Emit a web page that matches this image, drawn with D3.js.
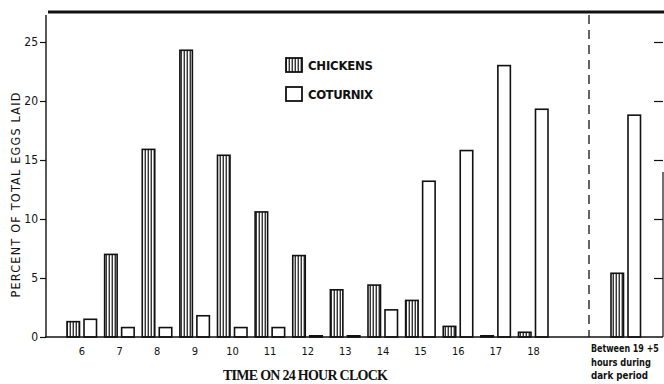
<!DOCTYPE html>
<html>
<head>
<meta charset="utf-8">
<script src="https://cdn.jsdelivr.net/npm/d3@7"></script>
<style>
  html, body { margin: 0; padding: 0; background: #fff; }
  svg { display: block; }
</style>
</head>
<body>
<svg id="chart" width="664" height="384"></svg>
<script>
// Hour of day when the egg was laid (24 h clock)
const hours = ["6", "7", "8", "9", "10", "11", "12", "13", "14", "15", "16", "17", "18"];
// Percent of total eggs laid in each hour
const chickens = [1.3, 7.0, 15.9, 24.3, 15.4, 10.6, 6.9, 4.0, 4.4, 3.1, 0.9, 0, 0.4];
const coturnix = [1.5, 0.8, 0.8, 1.8, 0.8, 0.8, 0, 0, 2.3, 13.2, 15.8, 23.0, 19.3];
// Eggs laid between 19 and 5 h, i.e. during the dark period
const darkLabel = ["Between 19 +5", "hours during", "dark period"];
const darkChickens = 5.4;
const darkCoturnix = 18.8;
const yTicks = [0, 5, 10, 15, 20, 25];
const seriesNames = ["CHICKENS", "COTURNIX"];

const svg = d3.select("#chart");
const ink = "#111";
const fam = '"DejaVu Sans Condensed", "Liberation Sans Narrow", sans-serif';

// Scales
const y = d3.scaleLinear().domain([0, 25]).range([337, 42]);
const x = d3.scaleBand().domain(hours).range([63.2, 552.3]).padding(0);
const darkCenter = 626;
const sub = d3.scaleBand().domain(["chickens", "coturnix"]).range([-15, 14.5]).paddingInner(0.265);

// Vertical stripe fill for the chicken bars
const defs = svg.append("defs");
const pat = defs.append("pattern")
  .attr("id", "stripes").attr("patternUnits", "userSpaceOnUse")
  .attr("width", 3).attr("height", 6);
pat.append("rect").attr("width", 3).attr("height", 6).attr("fill", "#fff");
pat.append("rect").attr("x", 0.6).attr("width", 1.3).attr("height", 6).attr("fill", "#222");

// Frame lines
svg.append("line").attr("x1", 48).attr("x2", 664).attr("y1", 12).attr("y2", 12)
  .attr("stroke", ink).attr("stroke-width", 3);
svg.append("line").attr("x1", 46).attr("x2", 46).attr("y1", 15).attr("y2", 337)
  .attr("stroke", ink).attr("stroke-width", 1.4);
svg.append("line").attr("x1", 663).attr("x2", 663).attr("y1", 172).attr("y2", 337)
  .attr("stroke", ink).attr("stroke-width", 1.2);
svg.append("line").attr("x1", 589).attr("x2", 589).attr("y1", 15).attr("y2", 337)
  .attr("stroke", ink).attr("stroke-width", 1.3).attr("stroke-dasharray", "9,6");

// Left axis
const yAxis = svg.append("g").attr("transform", "translate(46,0)")
  .call(d3.axisLeft(y).tickValues(yTicks).tickSize(6).tickPadding(2).tickFormat(d3.format("d")));
yAxis.select(".domain").remove();
yAxis.selectAll("line").attr("stroke", ink).attr("stroke-width", 1.2);
yAxis.selectAll("text").attr("font-size", 12).attr("fill", ink)
  .attr("font-family", null).style("font-family", fam);

// Right-hand tick marks
const yAxisR = svg.append("g").attr("transform", "translate(663,0)")
  .call(d3.axisLeft(y).tickValues(yTicks.filter(d => d > 0)).tickSize(9).tickFormat(""));
yAxisR.select(".domain").remove();
yAxisR.selectAll("line").attr("stroke", ink).attr("stroke-width", 1.2);

// Bars
function bar(cx, key, v) {
  const h = Math.max(y(0) - y(v), 1.2);
  svg.append("rect")
    .attr("x", cx + sub(key)).attr("width", sub.bandwidth())
    .attr("y", y(0) - h).attr("height", h)
    .attr("fill", key === "chickens" ? "url(#stripes)" : "#fff")
    .attr("stroke", ink).attr("stroke-width", 1.6);
}
hours.forEach((hh, i) => {
  const cx = x(hh) + x.bandwidth() / 2;
  bar(cx, "chickens", chickens[i]);
  bar(cx, "coturnix", coturnix[i]);
});
bar(darkCenter, "chickens", darkChickens);
bar(darkCenter, "coturnix", darkCoturnix);

// Baseline
svg.append("line").attr("x1", 45).attr("x2", 663).attr("y1", 337).attr("y2", 337)
  .attr("stroke", ink).attr("stroke-width", 1.5);

// Hour labels
svg.append("g").selectAll("text").data(hours).join("text")
  .attr("x", d => x(d) + x.bandwidth() / 2).attr("y", 355)
  .attr("text-anchor", "middle").style("font-family", fam)
  .attr("font-size", 11).attr("fill", ink).text(d => d);

// Dark period label: three lines squeezed horizontally to fit the narrow column
const darkWidths = [68, 60, 57];
svg.append("g").selectAll("text").data(darkLabel).join("text")
  .style("font-family", fam).attr("font-weight", "bold")
  .attr("font-size", 11).attr("fill", ink)
  .text(d => d)
  .attr("transform", function (d, i) {
    const w = this.getComputedTextLength() || darkWidths[i];
    const k = Math.min(1, darkWidths[i] / w);
    return `translate(591,${352 + i * 13.5}) scale(${k},1)`;
  });

// Axis titles
svg.append("text").attr("x", 223).attr("y", 380)
  .attr("font-family", '"Liberation Serif", "DejaVu Serif", serif')
  .attr("font-weight", "bold").attr("font-size", 14)
  .attr("textLength", 165).attr("lengthAdjust", "spacing")
  .attr("fill", ink).text("TIME ON 24 HOUR CLOCK");

svg.append("text")
  .attr("transform", "translate(20,195) rotate(-90)")
  .attr("text-anchor", "middle").style("font-family", fam)
  .attr("font-size", 12.5).attr("textLength", 205).attr("lengthAdjust", "spacing")
  .attr("fill", ink).text("PERCENT OF TOTAL EGGS LAID");

// Legend
const legend = svg.append("g");
seriesNames.forEach((name, i) => {
  const ly = 58 + i * 29;
  legend.append("rect").attr("x", 286).attr("y", ly).attr("width", 16).attr("height", 14)
    .attr("fill", i === 0 ? "url(#stripes)" : "#fff")
    .attr("stroke", ink).attr("stroke-width", 1.8);
  legend.append("text").attr("x", 308).attr("y", ly + 12)
    .style("font-family", fam).attr("font-weight", "bold")
    .attr("font-size", 13).attr("textLength", 65).attr("lengthAdjust", "spacing")
    .attr("fill", ink).text(name);
});
</script>
</body>
</html>
